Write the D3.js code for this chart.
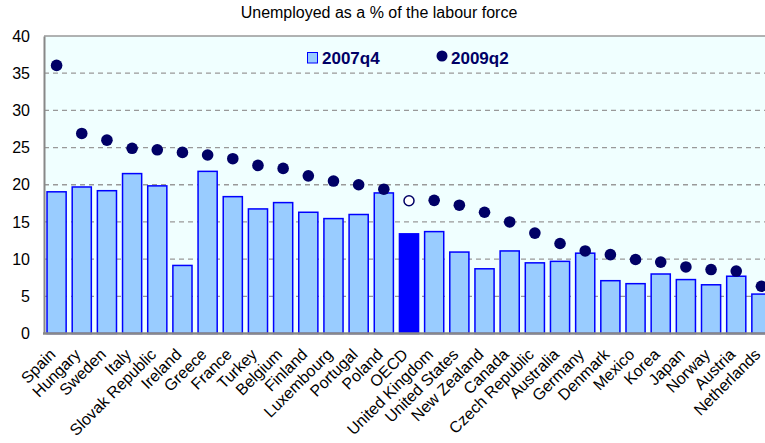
<!DOCTYPE html>
<html>
<head>
<meta charset="utf-8">
<title>Unemployed as a % of the labour force</title>
<script src="https://cdn.jsdelivr.net/npm/d3@7/dist/d3.min.js"></script>
<style>
  body { margin: 0; background: #fff; }
  svg { display: block; font-family: "Liberation Sans", Arial, sans-serif; }
</style>
</head>
<body>
<div id="chart"></div>
<script>
// countries, in the order shown
var countries = ["Spain", "Hungary", "Sweden", "Italy", "Slovak Republic", "Ireland", "Greece",
  "France", "Turkey", "Belgium", "Finland", "Luxembourg", "Portugal", "Poland", "OECD",
  "United Kingdom", "United States", "New Zealand", "Canada", "Czech Republic", "Australia",
  "Germany", "Denmark", "Mexico", "Korea", "Japan", "Norway", "Austria", "Netherlands"];

// 2007q4 (bars)
var q2007 = [19.05, 19.7, 19.2, 21.5, 19.85, 9.15, 21.8, 18.4, 16.75, 17.6, 16.3, 15.45, 16.0, 18.9,
  13.4, 13.7, 10.95, 8.7, 11.1, 9.5, 9.7, 10.8, 7.1, 6.7, 8.0, 7.25, 6.55, 7.7, 5.3];

// 2009q2 (dots)
var q2009 = [36.05, 26.9, 26.0, 24.9, 24.7, 24.35, 24.0, 23.5, 22.6, 22.2, 21.2, 20.5, 20.0, 19.4,
  17.85, 17.9, 17.25, 16.3, 15.0, 13.5, 12.1, 11.1, 10.6, 9.95, 9.6, 8.95, 8.6, 8.4, 6.35];

var yTicks = [0, 5, 10, 15, 20, 25, 30, 35, 40];

var width = 765, height = 443;
var plotLeft = 44, plotTop = 36, plotBottom = 333.5, plotRight = 774;

var svg = d3.select("#chart").append("svg")
    .attr("width", width)
    .attr("height", height);

var x = d3.scaleBand().domain(countries).range([plotLeft, plotRight])
    .paddingInner(0.24).paddingOuter(0.12);
var y = d3.scaleLinear().domain([0, 40]).range([plotBottom, plotTop]);

// plot background
svg.append("rect")
    .attr("x", plotLeft).attr("y", plotTop)
    .attr("width", plotRight - plotLeft).attr("height", plotBottom - plotTop)
    .attr("fill", "#F0FFFF");

// grid lines
svg.append("g").selectAll("line")
    .data(yTicks.filter(function(d) { return d > 0 && d < 40; }))
  .enter().append("line")
    .attr("x1", plotLeft).attr("x2", plotRight)
    .attr("y1", function(d) { return y(d); })
    .attr("y2", function(d) { return y(d); })
    .attr("stroke", "#999")
    .attr("stroke-width", 1.3)
    .attr("stroke-dasharray", "5,4");

svg.append("line")
    .attr("x1", plotLeft).attr("x2", plotRight)
    .attr("y1", y(40)).attr("y2", y(40))
    .attr("stroke", "#999").attr("stroke-width", 1.3);

// title
svg.append("text")
    .attr("x", 379).attr("y", 18)
    .attr("text-anchor", "middle")
    .attr("font-size", "16px")
    .attr("fill", "#000")
    .text("Unemployed as a % of the labour force");

// bars 2007q4
svg.append("g").selectAll("rect")
    .data(countries)
  .enter().append("rect")
    .attr("x", function(d) { return x(d); })
    .attr("y", function(d, i) { return y(q2007[i]); })
    .attr("width", x.bandwidth())
    .attr("height", function(d, i) { return y(0) - y(q2007[i]); })
    .attr("fill", function(d) { return d == "OECD" ? "#0000FF" : "#99CCFF"; })
    .attr("stroke", "#0000FF")
    .attr("stroke-width", 1.5);

// dots 2009q2
svg.append("g").selectAll("circle")
    .data(countries)
  .enter().append("circle")
    .attr("cx", function(d) { return x(d) + x.bandwidth() / 2; })
    .attr("cy", function(d, i) { return y(q2009[i]); })
    .attr("r", function(d) { return d == "OECD" ? 5 : 5.8; })
    .attr("fill", function(d) { return d == "OECD" ? "#fff" : "#000066"; })
    .attr("stroke", "#000066")
    .attr("stroke-width", function(d) { return d == "OECD" ? 1.5 : 0; });

// axes
var yAxis = svg.append("g")
    .attr("transform", "translate(" + plotLeft + ",0)")
    .call(d3.axisLeft(y).tickValues(yTicks).tickSize(0).tickPadding(14));
yAxis.select(".domain").attr("stroke", "#888").attr("stroke-width", 2);
yAxis.selectAll("text").attr("font-size", "16px").attr("fill", "#000")
    .attr("font-family", "Liberation Sans, Arial, sans-serif");

var xAxis = svg.append("g")
    .attr("transform", "translate(0," + plotBottom + ")")
    .call(d3.axisBottom(x).tickSize(0).tickPadding(0));
xAxis.select(".domain").remove();
svg.append("line")
    .attr("x1", plotLeft - 1).attr("x2", width)
    .attr("y1", plotBottom).attr("y2", plotBottom)
    .attr("stroke", "#888").attr("stroke-width", 2.5);
xAxis.selectAll("text")
    .attr("font-size", "16px")
    .attr("fill", "#000")
    .attr("font-family", "Liberation Sans, Arial, sans-serif")
    .attr("text-anchor", "end")
    .attr("dy", 0)
    .attr("transform", "translate(0,22) rotate(-45)");

// legend
var legend = svg.append("g");
legend.append("rect")
    .attr("x", 307.5).attr("y", 52.5)
    .attr("width", 10).attr("height", 10.5)
    .attr("fill", "#99CCFF").attr("stroke", "#0000FF").attr("stroke-width", 1);
legend.append("text")
    .attr("x", 322).attr("y", 63.5)
    .attr("font-size", "17px").attr("font-weight", "bold").attr("fill", "#000066")
    .text("2007q4");
legend.append("circle")
    .attr("cx", 442).attr("cy", 56).attr("r", 5.5)
    .attr("fill", "#000066");
legend.append("text")
    .attr("x", 451).attr("y", 63.5)
    .attr("font-size", "17px").attr("font-weight", "bold").attr("fill", "#000066")
    .text("2009q2");
</script>
</body>
</html>
